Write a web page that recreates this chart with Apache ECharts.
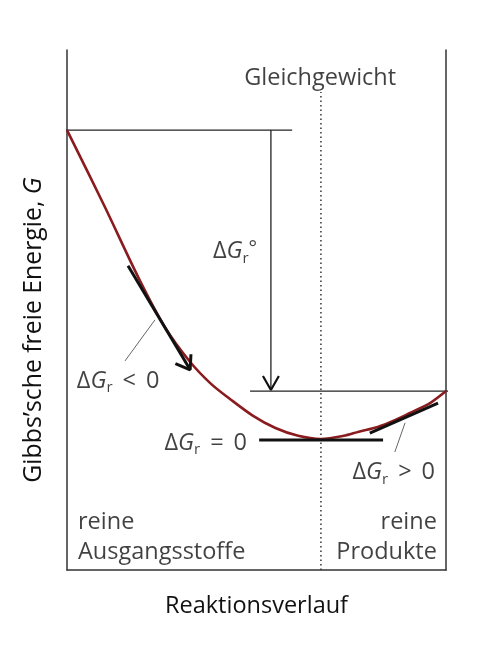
<!DOCTYPE html>
<html>
<head>
<meta charset="utf-8">
<script src="https://cdn.jsdelivr.net/npm/echarts@6/dist/echarts.min.js"></script>
<style>html,body{margin:0;padding:0;background:#fff}#c{width:477px;height:645px}</style>
</head>
<body>
<div id="c"></div>
<script>
// Reaction coordinate (0 = pure reactants, 100 = pure products), Gibbs energy G (arbitrary units)
const xi = [0, 10, 19, 26, 32.5, 38, 43, 49, 55, 61, 67, 73, 77, 82, 86.5, 90.5, 96, 100];
const G  = [84.6, 69.8, 56, 46.5, 40, 35.8, 32.9, 29.7, 27.3, 25.8, 25.2, 25.8, 26.6, 27.5, 28.8, 30.2, 32.2, 34.4];

const xiEq = 67;          // equilibrium position
const Gstart = 84.6;      // G of pure reactants
const Gend = 34.4;        // G of pure products
const Gmin = 25.0;        // G at equilibrium

const topLineX = [-3.2, 59.4];
const endLineX = [48.3, 103.7];
const arrowX = 53.8;
const eqLineY = [0, 91.9];
const zeroTangentX = [50.7, 83.4];
const negTangent = [[16.1, 58.5], [32.5, 38.5]];
const negArrowHead = [[32.7, 41.5], [32.5, 38.5], [28.6, 39.7]];
const posTangent = [[79.9, 26.3], [97.9, 32.1]];
const negLeader = [[15.3, 40.2], [23.2, 48.1]];
const posLeader = [[86.5, 22.7], [89.2, 28.3]];
const stdArrowHead = [[arrowX - 2.1, Gend + 2.9], [arrowX, Gend + 0.2], [arrowX + 2.1, Gend + 2.9]];

const xTitle = 'Reaktionsverlauf';
const yTitle = "Gibbs’sche freie Energie, ";
const eqText = 'Gleichgewicht';
const leftEndText = 'reine\nAusgangsstoffe';
const rightEndText = 'reine\nProdukte';

const FONT = 'Open Sans';
const TXT = '#111';
const FS = 23.5;
const SP = ' \u2009';

const rich = {
  n: { fontFamily: FONT, fontSize: FS, color: TXT, lineHeight: 28 },
  g: { fontFamily: FONT, fontSize: FS, color: TXT, fontStyle: 'italic', lineHeight: 28 },
  s: { fontFamily: FONT, fontSize: 15, color: TXT, lineHeight: 15, verticalAlign: 'bottom' },
  yn: { fontFamily: FONT, fontSize: 24.8, color: TXT, lineHeight: 28 },
  yg: { fontFamily: FONT, fontSize: 24.8, color: TXT, fontStyle: 'italic', lineHeight: 28 }
};

function seg(data, width, color, extra) {
  return Object.assign({
    type: 'line', data: data, symbol: 'none', clip: false, silent: true,
    lineStyle: { width: width, color: color }, z: 3
  }, extra || {});
}

function lbl(x, y, text, align, vAlign, extra) {
  return {
    value: [x, y],
    label: Object.assign({
      show: true, position: 'inside', formatter: text, align: align,
      verticalAlign: vAlign, rich: rich, fontFamily: FONT, fontSize: FS, color: TXT, lineHeight: 30
    }, extra || {})
  };
}

const chart = echarts.init(document.getElementById('c'), null, { renderer: 'canvas' });
chart.setOption({
  animation: false,
  backgroundColor: '#fff',
  grid: { left: 67, right: 31, top: 50, bottom: 75 },
  xAxis: {
    type: 'value', min: 0, max: 100,
    axisLine: { show: true, lineStyle: { color: '#333', width: 1.5 } },
    axisTick: { show: false }, axisLabel: { show: false }, splitLine: { show: false },
    name: xTitle, nameLocation: 'middle', nameGap: 24,
    nameTextStyle: { fontFamily: FONT, fontSize: FS, color: TXT }
  },
  yAxis: [{
    type: 'value', min: 0, max: 100, position: 'left',
    axisLine: { show: true, lineStyle: { color: '#333', width: 1.5 } },
    axisTick: { show: false }, axisLabel: { show: false }, splitLine: { show: false },
    name: '{yn|' + yTitle + '}{yg|G}', nameLocation: 'middle', nameGap: 19,
    nameTextStyle: { fontFamily: FONT, fontSize: 24.8, color: TXT, rich: rich, padding: [0, 40, 0, 0] }
  }, {
    type: 'value', min: 0, max: 100, position: 'right',
    axisLine: { show: true, onZero: false, lineStyle: { color: '#333', width: 1.5 } },
    axisTick: { show: false }, axisLabel: { show: false }, splitLine: { show: false }
  }],
  series: [
    seg([[topLineX[0], Gstart], [topLineX[1], Gstart]], 1.3, '#222'),
    seg([[endLineX[0], Gend], [endLineX[1], Gend]], 1.3, '#222'),
    seg([[arrowX, Gstart], [arrowX, Gend + 0.2]], 1.3, '#222'),
    seg(stdArrowHead, 2.2, '#111'),
    seg([[xiEq, eqLineY[0]], [xiEq, eqLineY[1]]], 1.5, '#333', { lineStyle: { width: 1.5, color: '#333', type: [1.5, 3] } }),
    seg(negLeader, 1, '#666'),
    seg(posLeader, 1, '#666'),
    {
      type: 'line', name: 'G', data: xi.map((x, i) => [x, G[i]]), symbol: 'none', clip: false,
      smooth: 0.3, silent: true,
      lineStyle: { width: 2.6, color: '#8a1c1f' }, z: 4
    },
    seg([[zeroTangentX[0], Gmin], [zeroTangentX[1], Gmin]], 3, '#111', { z: 5 }),
    seg(negTangent, 3, '#111', { z: 5 }),
    seg(negArrowHead, 3, '#111', { z: 5 }),
    seg(posTangent, 3, '#111', { z: 5 }),
    {
      type: 'scatter', symbolSize: 0, clip: false, silent: true, z: 6,
      data: [
        lbl(66.8, 94.6, eqText, 'center', 'middle'),
        lbl(38.5, 61.2, '{n|Δ}{g|G}{s|r}', 'left', 'middle'),
        lbl(49.0, 61.6, '°', 'center', 'middle', { fontSize: 20 }),
        lbl(2.6, 36.3, '{n|Δ}{g|G}{s|r}{n|' + SP + '<' + SP + '0}', 'left', 'middle'),
        lbl(47.5, 24.4, '{n|Δ}{g|G}{s|r}{n|' + SP + '=' + SP + '0}', 'right', 'middle'),
        lbl(97.1, 18.7, '{n|Δ}{g|G}{s|r}{n|' + SP + '>' + SP + '0}', 'right', 'middle'),
        lbl(2.9, 6.3, leftEndText, 'left', 'middle'),
        lbl(97.6, 6.3, rightEndText, 'right', 'middle')
      ]
    }
  ]
});
</script>
</body>
</html>
